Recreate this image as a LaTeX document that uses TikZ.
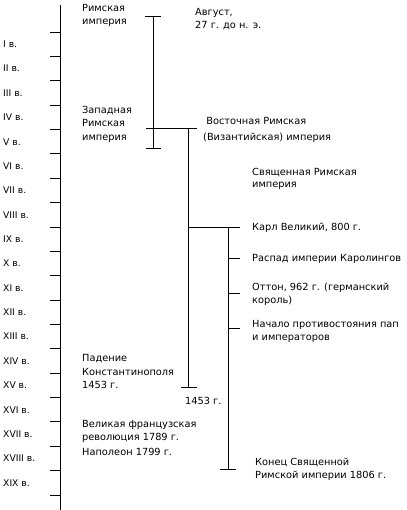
\documentclass[tikz,border=0pt]{standalone}
\usepackage{fontspec}
\setmainfont{Liberation Sans}
\newfontfamily\lblfont{DejaVu Sans}
\begin{document}
\begin{tikzpicture}[x=1pt,y=-1pt,
  line/.style={line width=0.8pt,black},
  lbl/.style={anchor=base west,inner sep=0pt,align=left,font=\lblfont\fontsize{9.8}{13.5}\selectfont},
  cent/.style={anchor=west,inner sep=0pt,font=\lblfont\fontsize{9.2}{13.5}\selectfont}]
\useasboundingbox (0,0) rectangle (406,510);
% main axis
\coordinate (axT) at (60,5);
\coordinate (axB) at (60,510);
\draw[line] (axT) -- (axB);
\foreach \k in {0,...,19}{
  \coordinate (t\k) at (60,{32+\k*24.368});
  \draw[line] (t\k) -- ++(-10,0);
}
\foreach \lab [count=\k from 0] in {I,II,III,IV,V,VI,VII,VIII,IX,X,XI,XII,XIII,XIV,XV,XVI,XVII,XVIII,XIX}{
  \node[cent] (c\k) at (3,{44.2+\k*24.368}) {\lab\ в.};
}
% Roman Empire
\coordinate (rT) at (153,16);
\coordinate (rB) at (153,148);
\draw[line] (rT) -- (rB);
\draw[line] (145,16) -- (161,16);
\draw[line] (146,148) -- (161,148);
% split
\coordinate (sL) at (146,128);
\coordinate (sR) at (197,128);
\draw[line] (sL) -- (sR);
% Byzantine
\coordinate (bT) at (188,128);
\coordinate (bB) at (188,387);
\draw[line] (bT) -- (bB);
\draw[line] (181,387) -- (197,387);
% Holy Roman Empire
\coordinate (hT) at (228,227);
\coordinate (hB) at (228,469);
\draw[line] (bT |- hT) -- (240,227);
\draw[line] (hT) -- (hB);
\draw[line] (220,469) -- (236,469);
\foreach \y in {258,293,328}{\draw[line] (228,\y) -- (240,\y);}
% labels (base = last line baseline)
\node[lbl] (n1) at (82,25) {Римская\\империя};
\node[lbl] (n2) at (195,29) {Август,\\27 г. до н. э.};
\node[lbl] (n3) at (82,140.5) {Западная\\Римская\\империя};
\node[lbl,font=\lblfont\fontsize{9.8}{15.5}\selectfont] (n4) at (203,140.5) {\ Восточная Римская\\(Византийская) империя};
\node[lbl,font=\lblfont\fontsize{9.8}{12.5}\selectfont] (n5) at (252,188) {Священная Римская\\империя};
\node[lbl] (n6) at (252,230.5) {Карл Великий, 800 г.};
\node[lbl] (n7) at (252,261.5) {Распад империи Каролингов};
\node[lbl] (n8) at (252,303.5) {Оттон, 962 г. (германский\\король)};
\node[lbl] (n9) at (252,340.5) {Начало противостояния пап\\и императоров};
\node[lbl] (n10) at (82,388.5) {Падение\\Константинополя\\1453 г.};
\node[lbl] (n11) at (185,404.5) {1453 г.};
\node[lbl] (n12) at (82,440.5) {Великая французская\\революция 1789 г.};
\node[lbl] (n13) at (82,455.5) {Наполеон 1799 г.};
\node[lbl] (n14) at (255,478.5) {Конец Священной\\Римской империи 1806 г.};
\end{tikzpicture}
\end{document}
